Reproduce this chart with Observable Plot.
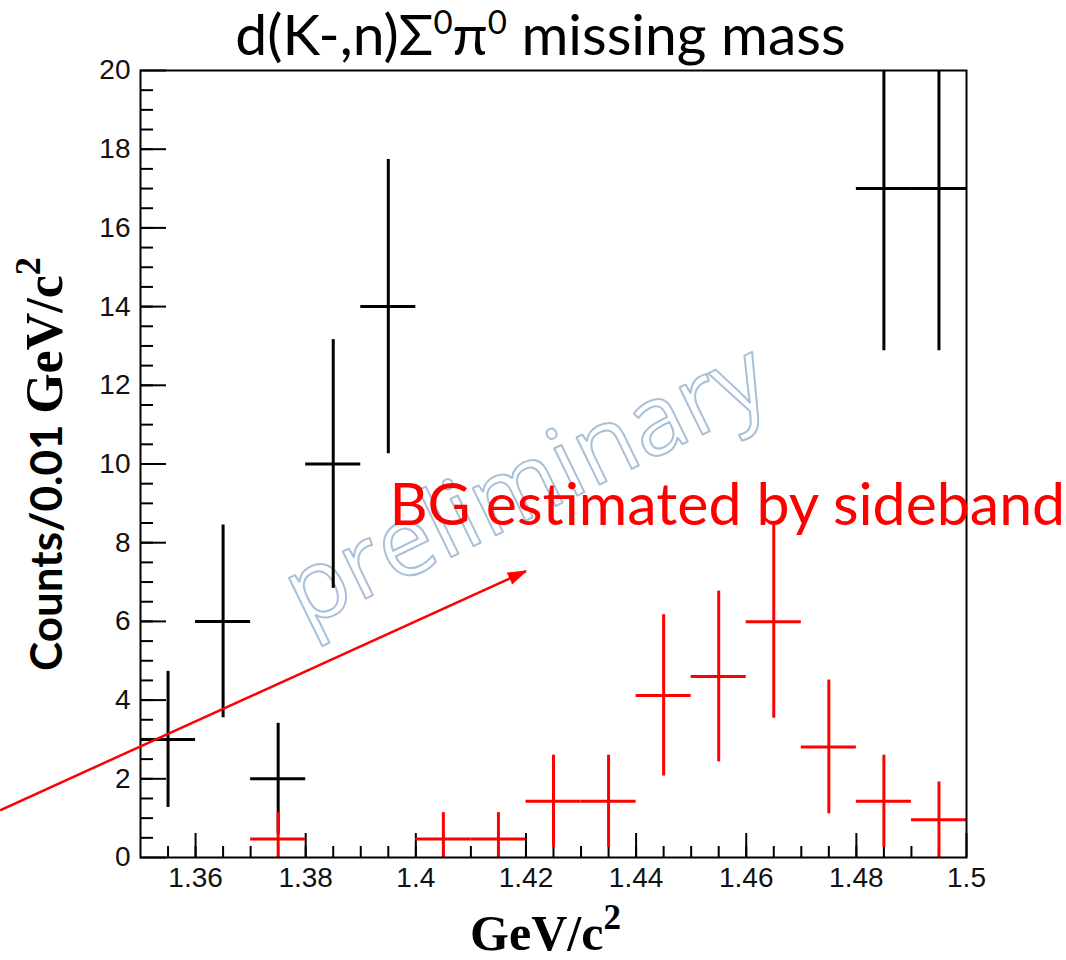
<!DOCTYPE html>
<html>
<head>
<meta charset="utf-8">
<script src="https://cdn.jsdelivr.net/npm/d3@7"></script>
<script src="https://cdn.jsdelivr.net/npm/@observablehq/plot@0.6"></script>
<style>
  html, body { margin: 0; padding: 0; background: #fff; }
  #chart svg { display: block; }
</style>
</head>
<body>
<div id="chart"></div>
<script>
// Missing-mass spectrum: counts per 0.01 GeV/c² bin with Poisson error bars
const dataBinCenters = [1.355, 1.365, 1.375, 1.385, 1.395, 1.485, 1.495];
const dataCounts     = [3, 6, 2, 10, 14, 17, 17];
const dataErrors     = [1.73, 2.45, 1.41, 3.16, 3.74, 4.12, 4.12];

// Background estimated from the sideband region
const bgBinCenters = [1.375, 1.405, 1.415, 1.425, 1.435, 1.445, 1.455, 1.465, 1.475, 1.485, 1.495];
const bgCounts     = [0.47, 0.47, 0.47, 1.43, 1.43, 4.12, 4.6, 5.99, 2.81, 1.43, 0.96];
const bgErrors     = [0.67, 0.67, 0.67, 1.17, 1.17, 2.05, 2.17, 2.45, 1.7, 1.17, 0.96];

const binWidth = 0.01;

// Axis ticks and labels
const xMajorTicks = [1.36, 1.38, 1.4, 1.42, 1.44, 1.46, 1.48, 1.5];
const xMinorTicks = d3.range(1.355, 1.4999, 0.005);
const yMajorTicks = [0, 2, 4, 6, 8, 10, 12, 14, 16, 18, 20];
const yMinorTicks = d3.range(0.5, 20, 0.5);

const titleText  = "d(K-,n)Σ0π0 missing mass";
const xLabelText = "GeV/c2";
const yLabelText = "Counts/0.01 GeV/c2";

// Annotations (data coordinates)
const bgNote    = [{text: "BG estimated by sideband", x: 1.3952, y: 8.45}];
const bgArrow   = [{x1: 1.3245, y1: 1.2, x2: 1.42, y2: 7.28}];
const watermark = [{text: "preliminary", x: 1.42, y: 9.45}];

const dataRows = dataBinCenters.map((x, i) => ({x, n: dataCounts[i], err: dataErrors[i]}));
const bgRows   = bgBinCenters.map((x, i) => ({x, n: bgCounts[i], err: bgErrors[i]}));

const W = 1066, H = 960;
const mL = 140, mR = 100, mT = 70, mB = 103;
const plotW = W - mL - mR, plotH = H - mT - mB;

const errorBars = (rows, color) => [
  Plot.ruleX(rows, {x: "x", y1: d => d.n - d.err, y2: d => d.n + d.err,
    stroke: color, strokeWidth: 3, clip: true}),
  Plot.ruleY(rows, {y: "n", x1: d => d.x - binWidth / 2, x2: d => d.x + binWidth / 2,
    stroke: color, strokeWidth: 3, clip: true})
];

const chart = Plot.plot({
  width: W,
  height: H,
  marginLeft: mL,
  marginRight: mR,
  marginTop: mT,
  marginBottom: mB,
  style: {fontFamily: "'Liberation Sans', Arial, sans-serif", fontSize: "28px", background: "#fff", overflow: "visible"},
  x: {domain: [1.35, 1.5]},
  y: {domain: [0, 20]},
  marks: [
    // watermark behind everything
    Plot.text(watermark, {x: "x", y: "y", text: "text", rotate: -26, fontSize: 98,
      fontFamily: "'Open Sans', sans-serif", fill: "none", stroke: "#a9c0d9", strokeWidth: 2}),

    // inward ROOT-style ticks
    Plot.ruleY(yMinorTicks, {y: d => d, insetRight: plotW - 13, stroke: "black", strokeWidth: 2}),
    Plot.ruleY(yMajorTicks, {y: d => d, insetRight: plotW - 26, stroke: "black", strokeWidth: 2}),
    Plot.ruleX(xMinorTicks, {x: d => d, insetTop: plotH - 11, stroke: "black", strokeWidth: 2}),
    Plot.ruleX(xMajorTicks, {x: d => d, insetTop: plotH - 24, stroke: "black", strokeWidth: 2}),

    Plot.axisY({ticks: yMajorTicks, tickSize: 0, tickPadding: 10, label: null, fill: "#111"}),
    Plot.axisX({ticks: xMajorTicks, tickSize: 0, tickPadding: 10, label: null, fill: "#111",
      tickFormat: d => String(d)}),

    ...errorBars(dataRows, "black"),
    ...errorBars(bgRows, "#ff0000"),

    Plot.frame({stroke: "black", strokeWidth: 2}),

    // annotation
    Plot.text(bgNote, {x: "x", y: "y", text: "text", textAnchor: "start", lineAnchor: "bottom",
      fontSize: 59, fontFamily: "Lato, 'Noto Sans', sans-serif", fill: "#ff0000"}),
    Plot.link(bgArrow, {x1: "x1", y1: "y1", x2: "x2", y2: "y2", stroke: "#ff0000", strokeWidth: 2.5}),
    Plot.vector(bgArrow, {x: "x2", y: "y2", rotate: 65.5, length: 18, r: 6, shape: "spike",
      anchor: "end", fill: "#ff0000", stroke: "#ff0000", strokeWidth: 1}),

    // title and axis titles
    Plot.text([titleText], {text: d => d, frameAnchor: "top", dx: -13, dy: -16, lineAnchor: "bottom",
      fontSize: 57, fontFamily: "Lato, 'Noto Sans', sans-serif", fill: "black"}),
    Plot.text([xLabelText], {text: d => d, frameAnchor: "bottom", dx: -8, dy: 92, lineAnchor: "bottom",
      fontSize: 50, fontWeight: "bold", fontFamily: "'Liberation Serif', serif", fill: "black"}),
    Plot.text([yLabelText], {text: d => d, frameAnchor: "left", dx: -93, rotate: -90,
      textAnchor: "middle", lineAnchor: "middle",
      fontSize: 44, fontWeight: "bold", fontFamily: "Lato, sans-serif", fill: "black"})
  ]
});

// Replace plain strings by mixed-font runs with superscripts
function richText(svg, plain, parts, basePx, supScale, supRise) {
  d3.select(svg).selectAll("text")
    .filter(function () { return this.textContent === plain; })
    .each(function () {
      const t = d3.select(this);
      t.text(null);
      let raised = 0;
      for (const p of parts) {
        const size = p.size || basePx;
        const s = t.append("tspan").text(p.t);
        if (p.font) s.attr("font-family", p.font);
        if (p.sup) {
          s.attr("font-size", size * supScale).attr("dy", -size * supRise);
          raised = size * supRise;
        } else {
          if (p.size) s.attr("font-size", p.size);
          if (raised) { s.attr("dy", raised); raised = 0; }
        }
      }
    });
}

richText(chart, titleText, [
  {t: "d(K-,n)Σ"}, {t: "0", sup: true}, {t: "π"}, {t: "0", sup: true}, {t: " missing mass"}
], 57, 0.58, 0.36);

richText(chart, xLabelText, [
  {t: "GeV/c"}, {t: "2", sup: true}
], 50, 0.7, 0.42);

richText(chart, yLabelText, [
  {t: "Counts/0.01 ", font: "Lato, sans-serif"},
  {t: "GeV/c", font: "'Liberation Serif', serif", size: 52},
  {t: "2", sup: true, font: "'Liberation Serif', serif", size: 52}
], 44, 0.7, 0.42);

document.getElementById("chart").appendChild(chart);
</script>
</body>
</html>
